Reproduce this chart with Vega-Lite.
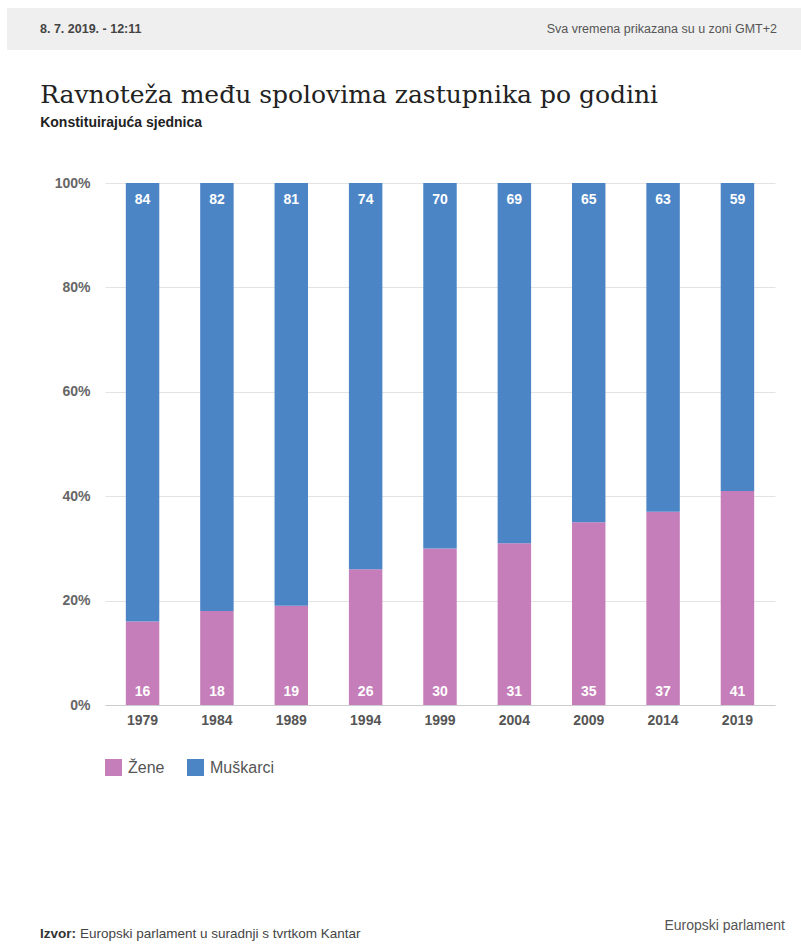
{
  "$schema": "https://vega.github.io/schema/vega-lite/v6.json",
  "background": "white",
  "padding": {"left": 7, "top": 8, "right": 0, "bottom": 0},
  "config": {
    "view": {"stroke": null},
    "font": "Liberation Sans",
    "concat": {"spacing": 33}
  },
  "resolve": {"legend": {"color": "independent"}},
  "vconcat": [
    {
      "width": 670,
      "height": 42,
      "data": {"values": [
        {"tekst": "8. 7. 2019. - 12:11", "pos": 0, "strana": "lijevo"},
        {"tekst": "Sva vremena prikazana su u zoni GMT+2", "pos": 1, "strana": "desno"}
      ]},
      "layer": [
        {
          "transform": [{"filter": "datum.strana === 'lijevo'"}],
          "mark": {"type": "rect", "color": "#efefef"},
          "encoding": {
            "x": {"datum": 0, "type": "quantitative", "scale": {"domain": [0, 1], "range": [-98, 696]}, "axis": null},
            "x2": {"datum": 1}
          }
        },
        {
          "transform": [{"filter": "datum.strana === 'lijevo'"}],
          "mark": {"type": "text", "align": "left", "baseline": "middle", "dx": 33, "fontSize": 12.5, "fontWeight": "bold", "color": "#444"},
          "encoding": {
            "x": {"field": "pos", "type": "quantitative", "scale": {"domain": [0, 1], "range": [-98, 696]}, "axis": null},
            "text": {"field": "tekst"}
          }
        },
        {
          "transform": [{"filter": "datum.strana === 'desno'"}],
          "mark": {"type": "text", "align": "right", "baseline": "middle", "dx": -24, "fontSize": 12.5, "color": "#555"},
          "encoding": {
            "x": {"field": "pos", "type": "quantitative", "scale": {"domain": [0, 1], "range": [-98, 696]}, "axis": null},
            "text": {"field": "tekst"}
          }
        }
      ]
    },
    {
      "width": 670,
      "height": 522,
      "title": {
        "text": "Ravnoteža među spolovima zastupnika po godini",
        "subtitle": "Konstituirajuća sjednica",
        "anchor": "start",
        "frame": "bounds",
        "dx": -14,
        "font": "DejaVu Serif",
        "fontSize": 25,
        "fontWeight": "normal",
        "color": "#222",
        "subtitleFont": "Liberation Sans",
        "subtitleFontSize": 14,
        "subtitleFontWeight": "bold",
        "subtitleColor": "#222",
        "subtitlePadding": 8,
        "offset": 46
      },
      "data": {"values": [
        {"godina": "1979", "spol": "Žene", "udio": 16},
        {"godina": "1979", "spol": "Muškarci", "udio": 84},
        {"godina": "1984", "spol": "Žene", "udio": 18},
        {"godina": "1984", "spol": "Muškarci", "udio": 82},
        {"godina": "1989", "spol": "Žene", "udio": 19},
        {"godina": "1989", "spol": "Muškarci", "udio": 81},
        {"godina": "1994", "spol": "Žene", "udio": 26},
        {"godina": "1994", "spol": "Muškarci", "udio": 74},
        {"godina": "1999", "spol": "Žene", "udio": 30},
        {"godina": "1999", "spol": "Muškarci", "udio": 70},
        {"godina": "2004", "spol": "Žene", "udio": 31},
        {"godina": "2004", "spol": "Muškarci", "udio": 69},
        {"godina": "2009", "spol": "Žene", "udio": 35},
        {"godina": "2009", "spol": "Muškarci", "udio": 65},
        {"godina": "2014", "spol": "Žene", "udio": 37},
        {"godina": "2014", "spol": "Muškarci", "udio": 63},
        {"godina": "2019", "spol": "Žene", "udio": 41},
        {"godina": "2019", "spol": "Muškarci", "udio": 59}
      ]},
      "encoding": {
        "x": {
          "field": "godina", "type": "ordinal",
          "scale": {"paddingInner": 0.55, "paddingOuter": 0.28},
          "axis": {"title": null, "labelAngle": 0, "labelFontSize": 14, "labelFontWeight": "bold", "labelColor": "#555", "labelPadding": 8, "ticks": false, "domainColor": "#ccc", "domainWidth": 1}
        }
      },
      "layer": [
        {
          "mark": {"type": "bar"},
          "encoding": {
            "y": {
              "field": "udio", "type": "quantitative", "stack": "zero",
              "scale": {"domain": [0, 100]},
              "axis": {"title": null, "values": [0, 20, 40, 60, 80, 100], "labelExpr": "datum.value + '%'", "labelFontSize": 14, "labelFontWeight": "bold", "labelColor": "#666", "labelPadding": 15, "ticks": false, "domain": false, "gridColor": "#e3e3e3", "labelBaseline": "middle"}
            },
            "color": {
              "field": "spol", "type": "nominal",
              "scale": {"domain": ["Žene", "Muškarci"], "range": ["#c57eb9", "#4b85c6"]},
              "legend": {"title": null, "orient": "bottom", "direction": "horizontal", "symbolType": "square", "symbolSize": 289, "symbolStrokeWidth": 0, "symbolOpacity": 1, "labelFontSize": 16, "labelColor": "#555", "columnPadding": 22, "labelOffset": 6, "offset": 32}
            },
            "order": {"field": "spol", "sort": "descending"}
          }
        },
        {
          "transform": [{"filter": "datum.spol === 'Muškarci'"}],
          "mark": {"type": "text", "color": "white", "fontSize": 14, "fontWeight": "bold", "baseline": "middle", "dy": 17},
          "encoding": {
            "y": {"datum": 100, "type": "quantitative",
              "axis": {"title": null, "values": [0, 20, 40, 60, 80, 100], "labelExpr": "datum.value + '%'", "labelFontSize": 14, "labelFontWeight": "bold", "labelColor": "#666", "labelPadding": 15, "ticks": false, "domain": false, "gridColor": "#e3e3e3", "labelBaseline": "middle"}},
            "text": {"field": "udio", "type": "quantitative"}
          }
        },
        {
          "transform": [{"filter": "datum.spol === 'Žene'"}],
          "mark": {"type": "text", "color": "white", "fontSize": 14, "fontWeight": "bold", "baseline": "middle", "dy": -13},
          "encoding": {
            "y": {"datum": 0, "type": "quantitative",
              "axis": {"title": null, "values": [0, 20, 40, 60, 80, 100], "labelExpr": "datum.value + '%'", "labelFontSize": 14, "labelFontWeight": "bold", "labelColor": "#666", "labelPadding": 15, "ticks": false, "domain": false, "gridColor": "#e3e3e3", "labelBaseline": "middle"}},
            "text": {"field": "udio", "type": "quantitative"}
          }
        }
      ]
    },
    {
      "width": 670,
      "height": 30,
      "data": {"values": [
        {"tekst": "Izvor:", "pos": 0, "vrsta": "izvor"},
        {"tekst": "Europski parlament u suradnji s tvrtkom Kantar", "pos": 0, "vrsta": "opis"},
        {"tekst": "Europski parlament", "pos": 1, "vrsta": "logo"}
      ]},
      "layer": [
        {
          "transform": [{"filter": "datum.vrsta === 'izvor'"}],
          "mark": {"type": "text", "align": "left", "baseline": "middle", "dx": 33, "dy": 110, "fontSize": 13.5, "fontWeight": "bold", "color": "#333"},
          "encoding": {
            "x": {"field": "pos", "type": "quantitative", "scale": {"domain": [0, 1], "range": [-98, 696]}, "axis": null},
            "text": {"field": "tekst"}
          }
        },
        {
          "transform": [{"filter": "datum.vrsta === 'opis'"}],
          "mark": {"type": "text", "align": "left", "baseline": "middle", "dx": 73, "dy": 110, "fontSize": 13.5, "color": "#444"},
          "encoding": {
            "x": {"field": "pos", "type": "quantitative", "scale": {"domain": [0, 1], "range": [-98, 696]}, "axis": null},
            "text": {"field": "tekst"}
          }
        },
        {
          "transform": [{"filter": "datum.vrsta === 'logo'"}],
          "mark": {"type": "text", "align": "right", "baseline": "middle", "dx": -16, "dy": 102, "fontSize": 14, "color": "#555"},
          "encoding": {
            "x": {"field": "pos", "type": "quantitative", "scale": {"domain": [0, 1], "range": [-98, 696]}, "axis": null},
            "text": {"field": "tekst"}
          }
        }
      ]
    }
  ]
}
